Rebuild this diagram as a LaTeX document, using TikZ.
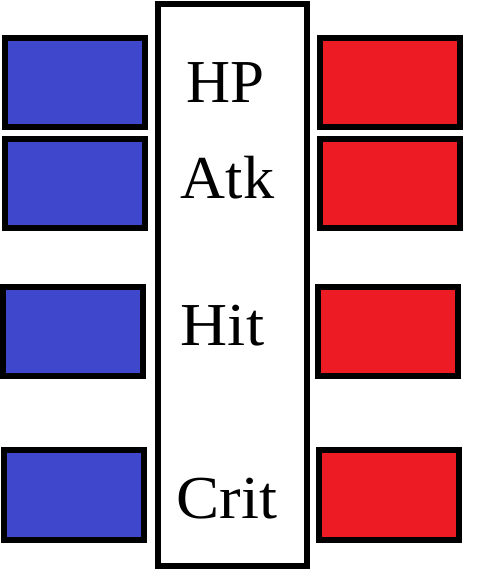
\documentclass[tikz,border=0pt]{standalone}
\usepackage{fontspec}
\setmainfont{Liberation Serif}
\definecolor{pblue}{HTML}{3F48CC}
\definecolor{pred}{HTML}{ED1C24}
\begin{document}
\begin{tikzpicture}[x=1pt,y=-1pt,
  bar/.style={draw=black,line width=6pt,inner sep=0pt,minimum width=140pt,minimum height=89pt},
  bluebar/.style={bar,fill=pblue},
  redbar/.style={bar,fill=pred},
  stat/.style={anchor=base,inner sep=0pt,font=\fontsize{61}{72}\selectfont}]
\useasboundingbox (0,0) rectangle (480,570);
\node[draw=black,line width=6pt,inner sep=0pt,minimum width=149pt,minimum height=562pt,fill=white] (col) at (232.5,285) {};
\node[bluebar] (b1) at (75,82.5) {};
\node[bluebar] (b2) at (75,183.5) {};
\node[bluebar] (b3) at (73,331.5) {};
\node[bluebar,minimum height=90pt] (b4) at (74,495) {};
\node[redbar] (r1) at (390,82.5) {};
\node[redbar] (r2) at (390,183.5) {};
\node[redbar] (r3) at (388,331.5) {};
\node[redbar,minimum height=90pt] (r4) at (389,495) {};
\node[stat] (hp) at (225.5,102) {HP};
\node[stat] (atk) at (227.5,198) {\scalebox{1.02}[1]{Atk}};
\node[stat] (hit) at (222.5,345) {\scalebox{1.07}[1]{Hit}};
\node[stat] (crit) at (227,518) {\scalebox{1.06}[1]{Crit}};
\end{tikzpicture}
\end{document}
